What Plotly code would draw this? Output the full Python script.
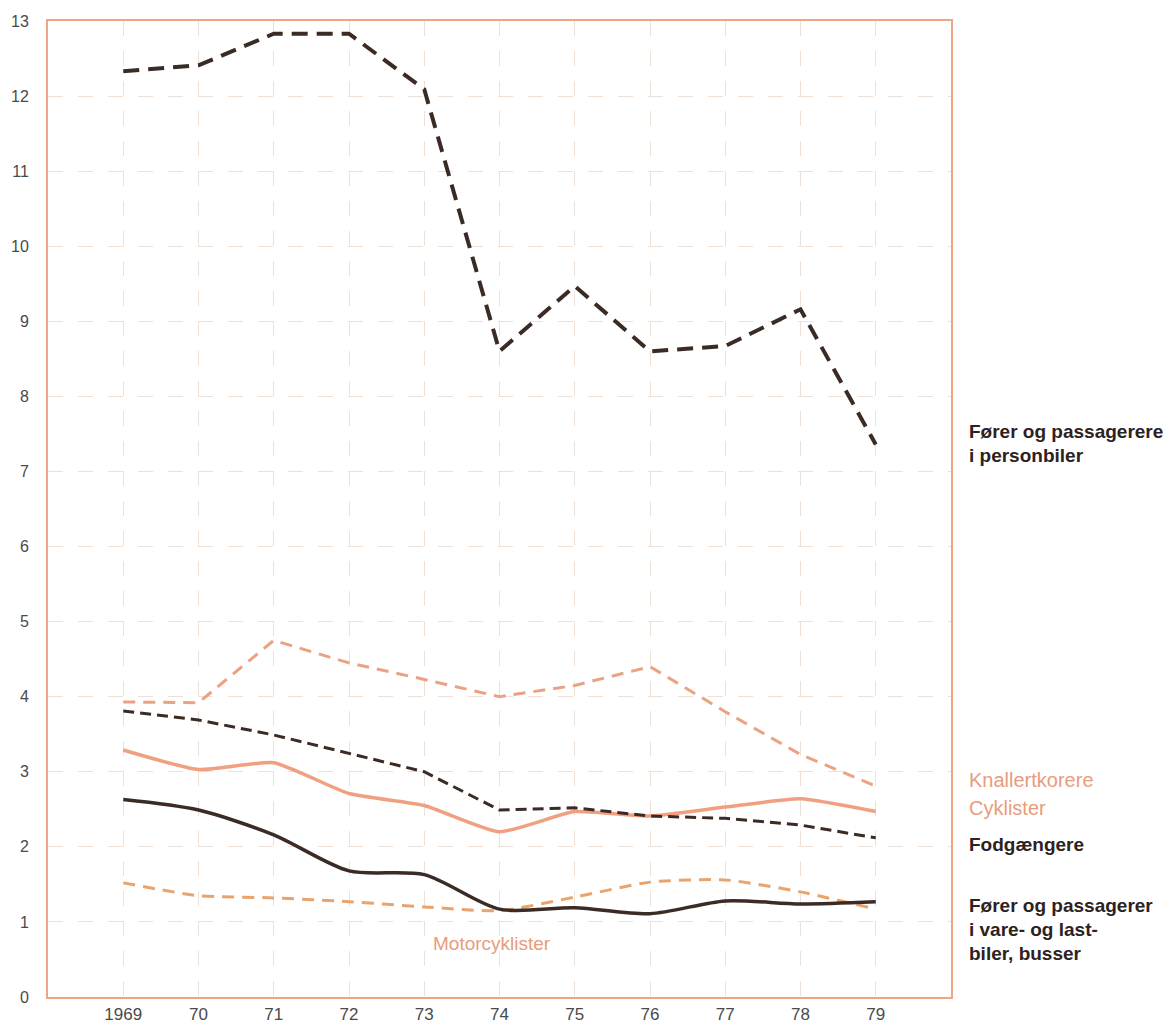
import plotly.graph_objects as go

years = [1969, 1970, 1971, 1972, 1973, 1974, 1975, 1976, 1977, 1978, 1979]
year_labels = ["1969", "70", "71", "72", "73", "74", "75", "76", "77", "78", "79"]

personbiler = [12.33, 12.41, 12.83, 12.83, 12.09, 8.6, 9.47, 8.6, 8.67, 9.16, 7.36]
knallert = [3.93, 3.92, 4.75, 4.45, 4.23, 4.0, 4.15, 4.4, 3.8, 3.23, 2.81]
cyklister = [3.29, 3.03, 3.12, 2.71, 2.55, 2.2, 2.47, 2.41, 2.53, 2.64, 2.47]
fodgaengere = [3.81, 3.69, 3.49, 3.25, 3.0, 2.49, 2.52, 2.41, 2.38, 2.29, 2.12]
varebiler = [2.63, 2.49, 2.16, 1.68, 1.63, 1.17, 1.19, 1.11, 1.28, 1.24, 1.27]
motorcykl = [1.52, 1.35, 1.32, 1.27, 1.2, 1.15, 1.33, 1.53, 1.56, 1.4, 1.17]

DARK = "#3b2b25"
SALMON = "#f0a080"
SALMON_D = "#eba282"
ORANGE = "#e9a46e"

fig = go.Figure()

fig.add_trace(go.Scatter(x=years, y=motorcykl, mode="lines",
                         line=dict(color=ORANGE, width=3, dash="12px,8px", shape="spline", smoothing=0.6)))
fig.add_trace(go.Scatter(x=years, y=knallert, mode="lines",
                         line=dict(color=SALMON_D, width=3, dash="12px,8px")))
fig.add_trace(go.Scatter(x=years, y=cyklister, mode="lines",
                         line=dict(color=SALMON, width=3.5, shape="spline", smoothing=0.5)))
fig.add_trace(go.Scatter(x=years, y=fodgaengere, mode="lines",
                         line=dict(color=DARK, width=3, dash="11px,6px")))
fig.add_trace(go.Scatter(x=years, y=varebiler, mode="lines",
                         line=dict(color=DARK, width=3.5, shape="spline", smoothing=0.8)))
fig.add_trace(go.Scatter(x=years, y=personbiler, mode="lines",
                         line=dict(color=DARK, width=4, dash="16px,9px")))

FONT = "Liberation Sans, Arial, sans-serif"
ann_font_bold = dict(family=FONT, size=19, color="#2e221e")
ann_font_salmon = dict(family=FONT, size=20, color="#e89c7c")

right_labels = [
    ("<b>Fører og passagerere</b>", 7.53, ann_font_bold),
    ("<b>i personbiler</b>", 7.21, ann_font_bold),
    ("Knallertkorere", 2.89, ann_font_salmon),
    ("Cyklister", 2.52, ann_font_salmon),
    ("<b>Fodgængere</b>", 2.03, ann_font_bold),
    ("<b>Fører og passagerer</b>", 1.213, ann_font_bold),
    ("<b>i vare- og last-</b>", 0.893, ann_font_bold),
    ("<b>biler, busser</b>", 0.573, ann_font_bold),
]
for txt, yv, fnt in right_labels:
    fig.add_annotation(x=1.0177, y=yv, xref="paper", yref="y", text=txt, showarrow=False,
                       xanchor="left", yanchor="middle", font=fnt)

fig.add_annotation(x=1973.9, y=0.71, xref="x", yref="y", text="Motorcyklister", showarrow=False,
                   xanchor="center", yanchor="middle", font=dict(family=FONT, size=19, color="#e89c7c"))

fig.update_layout(
    width=1170, height=1024,
    margin=dict(l=48, r=219, t=21, b=27, autoexpand=False),
    paper_bgcolor="white", plot_bgcolor="white",
    showlegend=False,
    font=dict(family=FONT, size=16, color="#4a4a4a"),
)
fig.update_xaxes(range=[1968, 1980], tickvals=years, ticktext=year_labels,
                 showgrid=True, gridcolor="#efe0d5", gridwidth=1, griddash="longdash",
                 showline=True, linecolor="#eea585", linewidth=2, mirror=True,
                 ticks="outside", ticklen=1, tickcolor="rgba(0,0,0,0)", automargin=False,
                 tickfont=dict(size=17, color="#4a4a4a"), zeroline=False)
fig.update_yaxes(range=[0, 13], tickvals=list(range(0, 14)),
                 showgrid=True, gridcolor="#efe0d5", gridwidth=1, griddash="longdash",
                 showline=True, linecolor="#eea585", linewidth=2, mirror=True,
                 ticks="outside", ticklen=14, tickcolor="rgba(0,0,0,0)", automargin=False,
                 tickfont=dict(size=16, color="#4a4a4a"), zeroline=False)

fig.write_html("out.html", config={"displayModeBar": False},
               post_script="document.body.style.margin='0';document.body.style.overflow='hidden';")
